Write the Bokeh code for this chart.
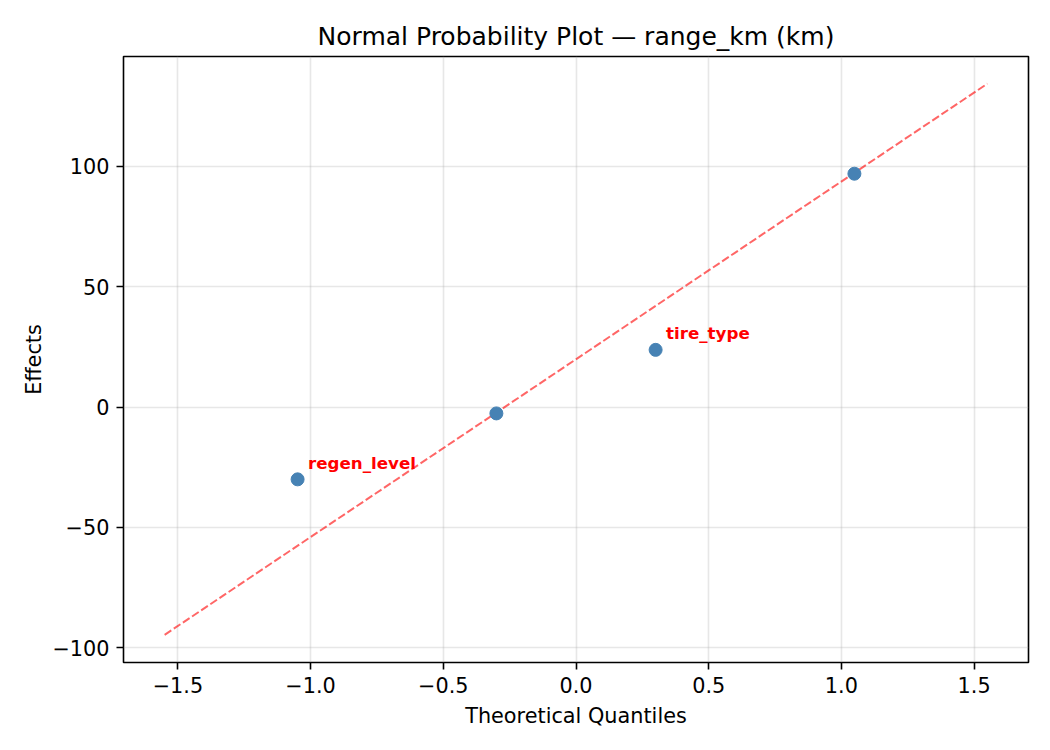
from bokeh.plotting import figure
from bokeh.models import Range1d, FixedTicker, ColumnDataSource
from bokeh.embed import file_html
from bokeh.resources import INLINE
from bokeh.core.properties import value

# ---- data ----
quantiles = [-1.049, -0.300, 0.300, 1.049]
effects = [-30.0, -2.6, 23.8, 97.0]
point_labels = ["regen_level", "", "tire_type", ""]

ref_x = [-1.55, 1.55]
ref_y = [-94.6, 134.4]

x_ticks = [-1.5, -1.0, -0.5, 0.0, 0.5, 1.0, 1.5]
x_tick_labels = ["\u22121.5", "\u22121.0", "\u22120.5", "0.0", "0.5", "1.0", "1.5"]
y_ticks = [-100, -50, 0, 50, 100]
y_tick_labels = ["\u2212100", "\u221250", "0", "50", "100"]

title_text = "Normal Probability Plot \u2014 range_km (km)"
x_label = "Theoretical Quantiles"
y_label = "Effects"

FONT = "DejaVu Sans"

p = figure(width=1034, height=734, output_backend="svg", toolbar_location=None,
           x_range=Range1d(-1.705, 1.705), y_range=Range1d(-106.1, 145.7),
           min_border_left=123, min_border_right=6, min_border_top=56, min_border_bottom=72)

p.background_fill_color = "white"
p.border_fill_color = "white"
p.outline_line_color = "black"
p.outline_line_width = 1.6

# title
p.title.text = title_text
p.title.align = "center"
p.title.text_font = FONT
p.title.text_font_size = "25px"
p.title.text_font_style = "normal"
p.title.text_color = "black"
p.title.standoff = 12

# grids
for g in (p.xgrid, p.ygrid):
    g.grid_line_color = "#b0b0b0"
    g.grid_line_alpha = 0.3
    g.grid_line_width = 1.6
p.xgrid.ticker = FixedTicker(ticks=x_ticks)
p.ygrid.ticker = FixedTicker(ticks=y_ticks)

# axes
p.xaxis.ticker = FixedTicker(ticks=x_ticks)
p.xaxis.major_label_overrides = {t: l for t, l in zip(x_ticks, x_tick_labels)}
p.yaxis.ticker = FixedTicker(ticks=y_ticks)
p.yaxis.major_label_overrides = {t: l for t, l in zip(y_ticks, y_tick_labels)}
p.xaxis.axis_label = x_label
p.yaxis.axis_label = y_label
for ax in (p.xaxis, p.yaxis):
    ax.axis_line_color = None
    ax.major_tick_out = 7
    ax.major_tick_in = 0
    ax.major_tick_line_width = 1.6
    ax.major_tick_line_color = "black"
    ax.minor_tick_out = 0
    ax.minor_tick_in = 0
    ax.major_label_text_font = FONT
    ax.major_label_text_font_size = "20.8px"
    ax.major_label_text_color = "black"
    ax.major_label_standoff = 7
    ax.axis_label_text_font = FONT
    ax.axis_label_text_font_size = "20.8px"
    ax.axis_label_text_font_style = "normal"
    ax.axis_label_text_color = "black"
p.xaxis.axis_label_standoff = 8
p.yaxis.axis_label_standoff = 3

# reference line
p.line(ref_x, ref_y, line_color="red", line_alpha=0.6, line_width=2, line_dash="8 3")

# points
src = ColumnDataSource(dict(x=quantiles, y=effects, lab=point_labels))
p.scatter("x", "y", source=src, size=13, fill_color="#4682B4", line_color="#4682B4")

# labels
p.text("x", "y", text="lab", source=src, x_offset=10.4, y_offset=-16.5,
       text_font=value(FONT), text_font_size="16.7px", text_font_style="bold",
       text_color="red", text_baseline="alphabetic", text_align="left")

open("out.html", "w").write(file_html(p, INLINE))
